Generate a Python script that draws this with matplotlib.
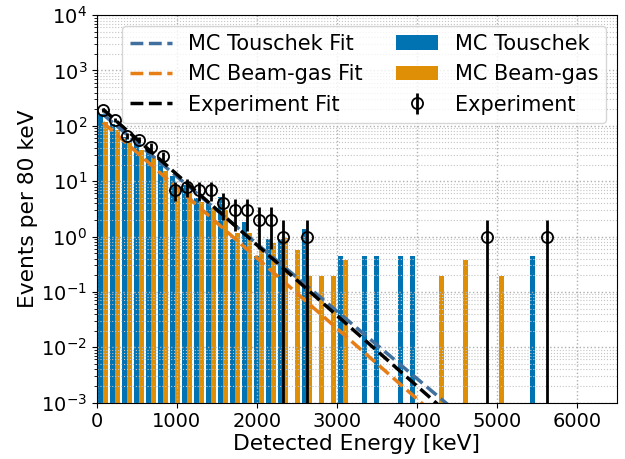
import numpy as np
import matplotlib
matplotlib.use('Agg')
import matplotlib.pyplot as plt

# bin width 150 keV, bin k covers [150k, 150k+150]
bin_w = 150
# MC histograms (scaled), one value per bin starting at bin 0
touschek = [165, 110, 63, 46, 40, 23, 12.5, 8.6, 5.0, 4.05,
            5.2, 0.9, 1.8, 0.45, 0.9, 0.9, 0, 1.35, 0, 0,
            0.45, 0, 0.45, 0.45, 0, 0.45, 0.45, 0, 0, 0,
            0, 0, 0, 0, 0, 0, 0.45]
beamgas = [118, 83, 54, 36, 29, 15, 7.0, 6.5, 4.2, 3.3,
           3.0, 1.14, 1.14, 0.57, 0.76, 0.95, 0.57, 0.19, 0.19, 0.19,
           0.38, 0, 0, 0, 0, 0, 0, 0, 0.19, 0,
           0.38, 0, 0, 0.19]

# experiment: bin index and counts
exp_bin = [0, 1, 2, 3, 4, 5, 6, 7, 8, 9, 10, 11, 12, 13, 14, 15, 17, 32, 37]
exp_counts = [193, 128, 66, 56, 42, 28, 7, 8, 7, 7, 4, 3, 3, 2, 2, 1, 1, 1, 1]

# exponential fits, endpoints
fit_E = [75, 4500]
touschek_fit = [162, 6.7e-4]
beamgas_fit = [115, 2.7e-4]
exp_fit = [200, 4.6e-4]

plt.rcParams['font.size'] = 14

fig = plt.figure(figsize=(6.25, 4.59), dpi=100)
ax = fig.add_axes([0.155, 0.123, 0.832, 0.844])

t = np.array(touschek)
b = np.array(beamgas)
ct = np.arange(len(t)) * bin_w + bin_w / 2
cb = np.arange(len(b)) * bin_w + bin_w / 2
bw = 0.4 * bin_w

lt, = ax.plot(fit_E, touschek_fit, '--', color='#41709f', lw=2.5, label='MC Touschek Fit')
lb, = ax.plot(fit_E, beamgas_fit, '--', color='#e67e15', lw=2.5, label='MC Beam-gas Fit')
le, = ax.plot(fit_E, exp_fit, '--', color='black', lw=2.5, label='Experiment Fit')

bt = ax.bar(ct[t > 0] - bw / 2, t[t > 0], width=bw, color='#0173b2', label='MC Touschek', zorder=0.9)
bb = ax.bar(cb[b > 0] + bw / 2, b[b > 0], width=bw, color='#de8f05', label='MC Beam-gas', zorder=0.9)

ec = np.array(exp_counts, dtype=float)
ee = np.array(exp_bin) * bin_w + bin_w / 2
eb = ax.errorbar(ee, ec, yerr=np.sqrt(ec), fmt='o', color='black', mfc='none',
                 ms=8, mew=1.3, elinewidth=2, label='Experiment')

ax.set_yscale('log')
ax.set_ylim(1e-3, 1e4)
ax.set_xlim(0, 6500)
ax.grid(True, which='major', ls=':', color='#b0b0b0', lw=1)
ax.grid(True, which='minor', axis='y', ls=':', color='#c4c4c4', lw=0.8)
ax.set_xlabel('Detected Energy [keV]', fontsize=15.7, labelpad=2)
ax.set_ylabel('Events per 80 keV', fontsize=15.7, labelpad=2)

ax.legend(handles=[lt, lb, le, bt, bb, eb], ncol=2, loc='upper right',
          fontsize=15, borderaxespad=0.5, columnspacing=1.6)

fig.savefig('out.png', dpi=100)
